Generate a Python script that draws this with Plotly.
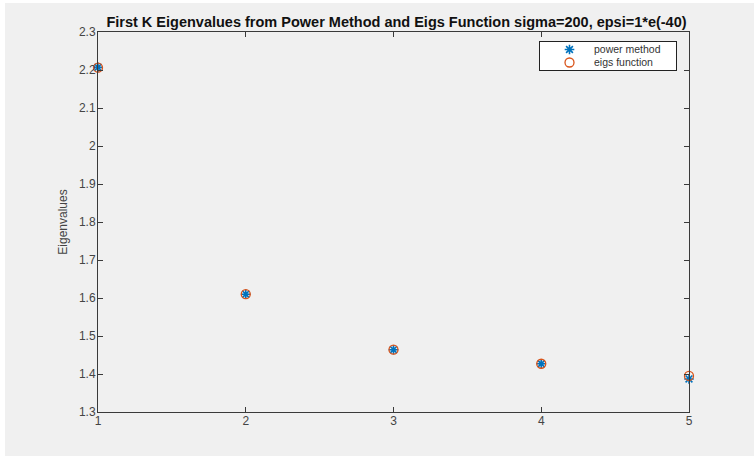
import plotly.graph_objects as go

k_values = [1, 2, 3, 4, 5]
power_method = [2.207, 1.610, 1.464, 1.427, 1.387]
eigs_function = [2.206, 1.610, 1.464, 1.427, 1.395]
series_names = ["power method", "eigs function"]
x_ticks = [1, 2, 3, 4, 5]
y_ticks = [1.3, 1.4, 1.5, 1.6, 1.7, 1.8, 1.9, 2.0, 2.1, 2.2, 2.3]
y_tick_labels = ["1.3", "1.4", "1.5", "1.6", "1.7", "1.8", "1.9", "2", "2.1", "2.2", "2.3"]

W, H = 754, 456
ML, MR, MT, MB = 98, 65, 32, 44
FONT = "Liberation Sans, Arial, Helvetica, sans-serif"
pw = W - ML - MR
ph = H - MT - MB

star_marker = dict(symbol="asterisk-open", size=8, color="#0072BD",
                   line=dict(color="#0072BD", width=1.6))
circle_marker = dict(symbol="circle-open", size=9, color="#D95319",
                     line=dict(color="#D95319", width=1.3))

fig = go.Figure()
fig.add_trace(go.Scatter(x=k_values, y=power_method, mode="markers", name=series_names[0],
                         marker=star_marker, cliponaxis=False, showlegend=False))
fig.add_trace(go.Scatter(x=k_values, y=eigs_function, mode="markers", name=series_names[1],
                         marker=circle_marker, cliponaxis=False, showlegend=False))

# ---- MATLAB-style compact legend box (pixel-based layout) ----
LEG_L, LEG_R, LEG_T, LEG_B = 540, 676, 42, 70
leg_w, leg_h = LEG_R - LEG_L, LEG_B - LEG_T
leg_marker_x, leg_text_x = 29.5, 53
leg_rows = [7.5, 20.5]
for name, mk, row in zip(series_names, [star_marker, circle_marker], leg_rows):
    fig.add_trace(go.Scatter(x=[leg_marker_x], y=[row], mode="markers", marker=mk,
                             xaxis="x2", yaxis="y2", showlegend=False, hoverinfo="skip"))
    fig.add_annotation(x=leg_text_x, y=row, xref="x2", yref="y2", text=name,
                       showarrow=False, xanchor="left", yanchor="middle", borderpad=0,
                       font=dict(family=FONT, size=10.5, color="#333333"))

# gray figure background with thin white strip on top/left
fig.add_shape(type="rect", xref="paper", yref="paper", layer="below",
              x0=(5 - ML) / pw, x1=(W + 5 - ML) / pw,
              y0=-(MB + 5) / ph, y1=(H - 3 - MB) / ph,
              fillcolor="#f0f0f0", line=dict(width=0))

axis_common = dict(
    showline=True, linecolor="#3a3a3a", linewidth=1, mirror="ticks",
    ticks="inside", ticklen=5, tickwidth=1, tickcolor="#3a3a3a",
    showgrid=False, zeroline=False,
    tickfont=dict(family=FONT, size=12, color="#444444"),
)

fig.update_layout(
    width=W, height=H,
    margin=dict(l=ML, r=MR, t=MT, b=MB),
    paper_bgcolor="white", plot_bgcolor="white",
    title=dict(text="<b>First K Eigenvalues from Power Method and Eigs Function sigma=200, epsi=1*e(-40)</b>",
               x=(ML + pw / 2 + 3) / W, xanchor="center", y=1 - 21.5 / H, yanchor="middle",
               font=dict(family=FONT, size=14.5, color="#111111")),
    showlegend=False,
    font=dict(family=FONT),
    xaxis=dict(range=[1, 5], tickvals=x_ticks, ticktext=[str(v) for v in x_ticks],
               ticklabelstandoff=-2, **axis_common),
    yaxis=dict(range=[1.3, 2.3], tickvals=y_ticks, ticktext=y_tick_labels,
               ticklabelstandoff=-1,
               title=dict(text="Eigenvalues", font=dict(family=FONT, size=12, color="#444444"),
                          standoff=8),
               **axis_common),
    xaxis2=dict(domain=[(LEG_L - ML) / pw, (LEG_R - ML) / pw], range=[0, leg_w],
                anchor="y2", showline=True, mirror=True, linecolor="#222222", linewidth=1,
                showticklabels=False, ticks="", showgrid=False, zeroline=False, fixedrange=True),
    yaxis2=dict(domain=[(H - MB - LEG_B) / ph, (H - MB - LEG_T) / ph], range=[leg_h, 0],
                anchor="x2", showline=True, mirror=True, linecolor="#222222", linewidth=1,
                showticklabels=False, ticks="", showgrid=False, zeroline=False, fixedrange=True),
)

fig.write_html("out.html", config={"displayModeBar": False},
               post_script="document.body.style.margin='0px';")
